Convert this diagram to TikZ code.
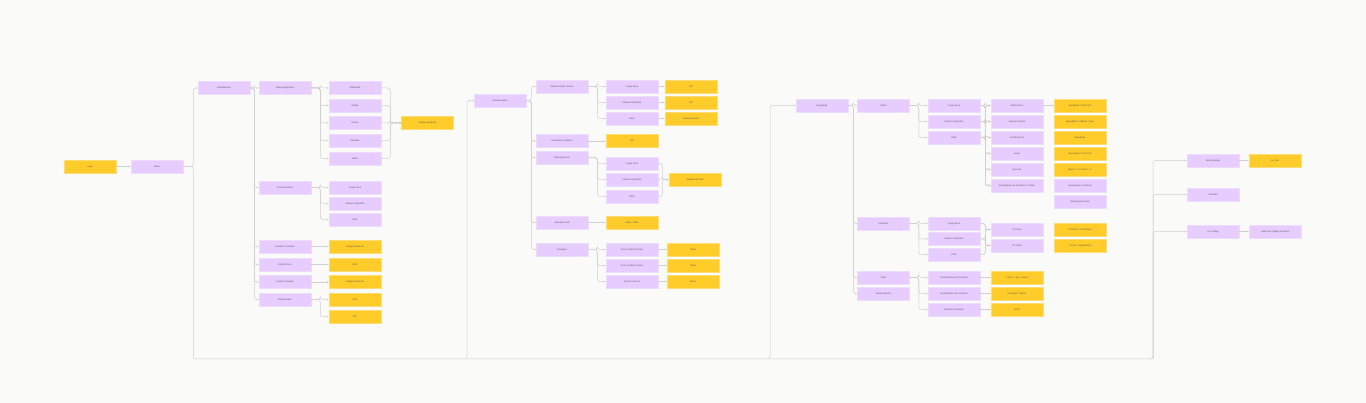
\documentclass[tikz,border=0pt]{standalone}
\usepackage{fontspec}
\setmainfont{Liberation Sans}
\usetikzlibrary{arrows.meta}
\definecolor{bgc}{HTML}{FAFAF8}
\definecolor{lila}{HTML}{E6CCFF}
\definecolor{lilaline}{HTML}{EDDCFF}
\definecolor{gelb}{HTML}{FFCC29}
\definecolor{gelbline}{HTML}{FFDC75}
\definecolor{linie}{HTML}{CFCFCF}
\definecolor{txt}{HTML}{555555}
\begin{document}
\begin{tikzpicture}[x=1pt,y=-1pt,
    pnode/.style={draw=lilaline,fill=lila,line width=0.5pt,minimum width=52pt,
      minimum height=13pt,inner sep=0pt,font=\fontsize{2.3}{2.6}\selectfont,text=txt},
    ynode/.style={pnode,draw=gelbline,fill=gelb},
    conn/.style={draw=linie,line width=0.5pt,rounded corners=2.5pt,
      -{Stealth[length=2pt,width=1.8pt]}}]
  \fill[bgc] (0,0) rectangle (1366,403);
  \useasboundingbox (0,0) rectangle (1366,403);

  % start
  \node[ynode] (login) at (90,166.5) {Login};
  \node[pnode] (menu) at (157,166.5) {Menu};
  \draw[conn] (login.east) -- (menu.west);

  % recebimento
  \node[pnode] (rec) at (224,88) {Recebimento};
  \node[pnode] (desc) at (285,88) {Descarregamento};
  \node[pnode] (pal) at (355,88) {Paletizada};
  \node[pnode] (bat) at (355,105.5) {Batida};
  \node[pnode] (gra) at (355,123) {Granel};
  \node[pnode] (est) at (355,140.5) {Estivada};
  \node[pnode] (mis) at (355,158.5) {Mista};
  \node[ynode] (cb1) at (427.5,123) {Código de Barras};
  \node[pnode] (pos) at (285,187.5) {Posicionamento};
  \node[pnode] (pcs) at (355,187.5) {Carga Seca};
  \node[pnode] (pcf) at (355,203.5) {Câmara Frigorífica};
  \node[pnode] (ppa) at (355,219.5) {Pátio};
  \node[pnode] (recc) at (285,246.5) {Receber Container};
  \node[ynode] (cb2) at (355,246.5) {Código de Barras};
  \node[pnode] (defd) at (285,264.5) {Definir Doca};
  \node[ynode] (ocr1) at (355,264.5) {OCR};
  \node[pnode] (fech) at (285,282) {Fechar Container};
  \node[ynode] (cb3) at (355,282) {Código de Barras};
  \node[pnode] (reim) at (285,299.5) {Reimpressão};
  \node[ynode] (pdf) at (355,299.5) {PDF};
  \node[ynode] (zpl) at (355,316.5) {ZPL};

  \draw[conn] (menu.east) -- ++(10,0) |- (rec.west);
  \foreach \c in {desc,pos,recc,defd,fech,reim}
    \draw[conn] (rec.east) -- ++(4,0) |- (\c.west);
  \foreach \c in {pal,bat,gra,est,mis} {
    \draw[conn] (desc.east) -- ++(9,0) |- (\c.west);
    \draw[conn] (\c.east) -- ++(9,0) |- (cb1.west);
  }
  \foreach \c in {pcs,pcf,ppa}
    \draw[conn] (pos.east) -- ++(9,0) |- (\c.west);
  \draw[conn] (recc.east) -- (cb2.west);
  \draw[conn] (defd.east) -- (ocr1.west);
  \draw[conn] (fech.east) -- (cb3.west);
  \foreach \c in {pdf,zpl}
    \draw[conn] (reim.east) -- ++(9,0) |- (\c.west);

  % armazenagem
  \node[pnode] (arm) at (500,100.5) {Armazenagem};
  \node[pnode] (mov) at (562,86.5) {Movimentação Interna};
  \node[pnode] (mcs) at (632,86.5) {Carga Seca};
  \node[pnode] (mcf) at (632,102.5) {Câmara Frigorífica};
  \node[pnode] (mpa) at (632,118.5) {Pátio};
  \node[ynode] (qr1) at (691,86.5) {QR};
  \node[ynode] (qr2) at (691,102.5) {QR};
  \node[ynode] (end1) at (691,118.5) {Endereçamento};
  \node[pnode] (inv) at (562,141) {Inventário / Auditoria};
  \node[ynode] (qr3) at (632,141) {QR};
  \node[pnode] (abs) at (562,157.5) {Ressuprimento};
  \node[pnode] (acs) at (632,163.5) {Carga Seca};
  \node[pnode] (acf) at (632,179.5) {Câmara Frigorífica};
  \node[pnode] (apa) at (632,196.5) {Pátio};
  \node[ynode] (sel) at (695,179.5) {Seleção de Rota};
  \node[pnode] (estq) at (562,222.5) {Estoque Geral};
  \node[ynode] (mapa) at (632,222.5) {Mapa / Pátio};
  \node[pnode] (pes) at (562,249.5) {Pesagem};
  \node[pnode] (pcc) at (632,249.5) {Peso Contêiner Cheio};
  \node[pnode] (pcv) at (632,265.5) {Peso Contêiner Vazio};
  \node[pnode] (tara) at (632,281.5) {Tara do Veículo};
  \node[ynode] (tk1) at (693,249.5) {Ticket};
  \node[ynode] (tk2) at (693,265.5) {Ticket};
  \node[ynode] (placa) at (693,281.5) {Placa};

  \foreach \c in {mov,inv,abs,estq,pes}
    \draw[conn] (arm.east) -- ++(5,0) |- (\c.west);
  \foreach \a/\b in {mcs/qr1,mcf/qr2,mpa/end1} {
    \draw[conn] (mov.east) -- ++(9,0) |- (\a.west);
    \draw[conn] (\a.east) -- (\b.west);
  }
  \draw[conn] (inv.east) -- (qr3.west);
  \foreach \c in {acs,acf,apa} {
    \draw[conn] (abs.east) -- ++(9,0) |- (\c.west);
    \draw[conn] (\c.east) -- ++(4,0) |- (sel.west);
  }
  \draw[conn] (estq.east) -- (mapa.west);
  \foreach \a/\b in {pcc/tk1,pcv/tk2,tara/placa} {
    \draw[conn] (pes.east) -- ++(9,0) |- (\a.west);
    \draw[conn] (\a.east) -- (\b.west);
  }

  % expedicao
  \node[pnode] (exp) at (822,105.5) {Expedição};
  \node[pnode] (rot) at (883.5,105.5) {Rotas};
  \node[pnode] (rcs) at (954,105.5) {Carga Seca};
  \node[pnode] (rcf) at (954,121.5) {Câmara Frigorífica};
  \node[pnode] (rpa) at (954,137.5) {Pátio};
  \node[pnode] (dd) at (1017,105.5) {Definir Doca};
  \node[pnode] (sp) at (1017,121.5) {Separar Paletes};
  \node[pnode] (cd) at (1017,137.5) {Conferir Doca};
  \node[pnode] (lac) at (1017,153.5) {Lacrar};
  \node[pnode] (estn) at (1017,169.5) {Estornar};
  \node[pnode] (desb) at (1017,185.5) {Desbloqueio de Container no Pátio};
  \node[ynode] (e1) at (1080,105.5) {Expedição 1 Cód / Pé};
  \node[ynode] (e2) at (1080,121.5) {Expedição 1 Câmara 1 Box};
  \node[ynode] (e3) at (1080,137.5) {Expedição};
  \node[ynode] (e4) at (1080,153.5) {Separação 1 Cód / Pé};
  \node[ynode] (e5) at (1080,169.5) {Mapa 1 / 2 / Placa 1 / 2};
  \node[pnode] (dc) at (1080,185.5) {Desbloquear Container};
  \node[pnode] (dp) at (1080,201.5) {Desbloquear Placa};
  \node[pnode] (cont) at (883.5,223.5) {Container};
  \node[pnode] (ccs) at (954,223.5) {Carga Seca};
  \node[pnode] (ccf) at (954,239) {Câmara Frigorífica};
  \node[pnode] (cpa) at (954,254.5) {Pátio};
  \node[pnode] (pd) at (1017,229.5) {Por Doca};
  \node[pnode] (pp) at (1017,245.5) {Por Placa};
  \node[ynode] (y1) at (1080,229.5) {Container / Pendentes};
  \node[ynode] (y2) at (1080,245.5) {1 Cont. / Aguardando};
  \node[pnode] (pat) at (883.5,277.5) {Pátio};
  \node[pnode] (tc) at (954,277.5) {Transferência de Container};
  \node[pnode] (rc) at (954,293.5) {Recebimento de Container};
  \node[pnode] (sc) at (954,309.5) {Saída de Container};
  \node[ynode] (t1) at (1017,277.5) {1 Cont. / Sep. Vazios};
  \node[ynode] (t2) at (1017,293.5) {Container / Vazios};
  \node[ynode] (t3) at (1017,309.5) {OCR};
  \node[pnode] (mon) at (883.5,293.5) {Monitoramento};

  \foreach \c in {rot,cont,pat,mon}
    \draw[conn] (exp.east) -- ++(5,0) |- (\c.west);
  \foreach \c in {rcs,rcf,rpa} {
    \draw[conn] (rot.east) -- ++(9,0) |- (\c.west);
    \foreach \d in {dd,sp,cd,lac,estn,desb}
      \draw[conn] (\c.east) -- ++(5,0) |- (\d.west);
  }
  \draw[conn] (dd.east) -- (e1.west);
  \foreach \c in {ccs,ccf,cpa} {
    \draw[conn] (cont.east) -- ++(9,0) |- (\c.west);
    \foreach \d in {pd,pp}
      \draw[conn] (\c.east) -- ++(5,0) |- (\d.west);
  }
  \foreach \a/\b in {tc/t1,rc/t2,sc/t3} {
    \draw[conn] (pat.east) -- ++(9,0) |- (\a.west);
    \draw[conn] (\a.east) -- (\b.west);
  }

  % sincronizacao
  \node[pnode] (sinc) at (1213,160.5) {Sincronização};
  \node[ynode] (ao) at (1275,160.5) {Ao Vivo};
  \node[pnode] (cons) at (1213,194.5) {Consulta};
  \node[pnode] (ler) at (1213,231.5) {Ler Código};
  \node[pnode] (leit) at (1275,231.5) {Leitura de código de barras};
  \draw[conn] (sinc.east) -- (ao.west);
  \draw[conn] (ler.east) -- (leit.west);

  % bus from menu
  \coordinate (b1) at (467,359);
  \coordinate (b2) at (770,359);
  \coordinate (b3) at (1153,359);
  \draw[conn] (menu.east) -- ++(10,0) |- (b1) |- (arm.west);
  \draw[conn] (b1) -- (b2) |- (exp.west);
  \draw[conn] (b2) -- (b3) |- (sinc.west);
  \draw[conn] (b3) |- (cons.west);
  \draw[conn] (b3) |- (ler.west);
\end{tikzpicture}
\end{document}
